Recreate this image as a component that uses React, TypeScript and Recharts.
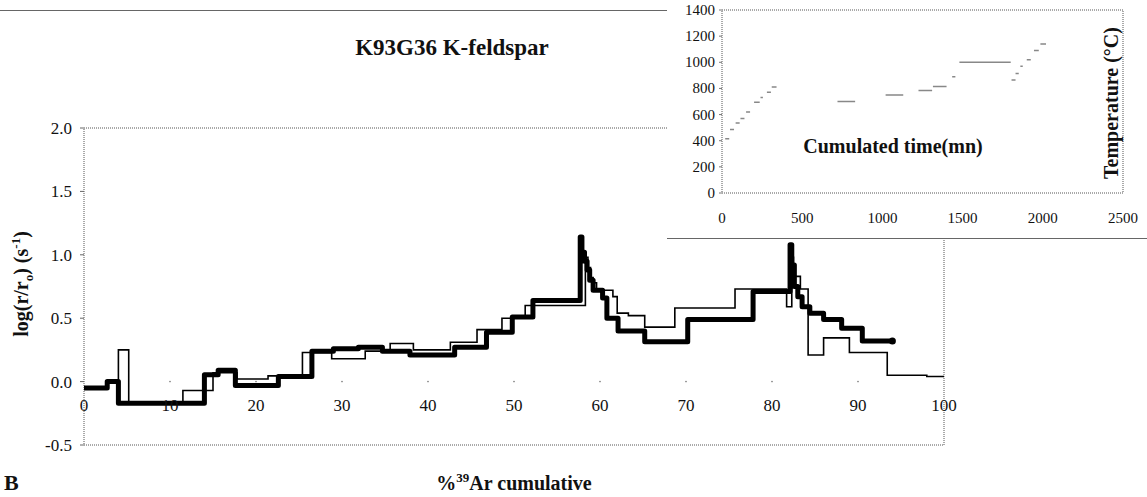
import React from 'react';
import {
    ComposedChart,
    LineChart,
    Line,
    Scatter,
    XAxis,
    YAxis,
    ReferenceArea,
} from 'recharts';

// main plot: log(r/ro) step spectra vs cumulative 39Ar release
const thickX = [0, 2.7, 4.0, 14.0, 15.6, 17.6, 22.6, 26.5, 29.0, 31.9, 34.7, 37.9, 43.1, 46.8, 49.8, 52.2, 57.7, 57.9, 58.2, 58.5, 58.8, 59.2, 60.3, 60.8, 62.1, 65.2, 70.2, 77.8, 82.1, 82.3, 82.6, 83.0, 83.5, 84.4, 86.0, 88.1, 90.5, 94.0];
const thickY = [-0.05, 0.0, -0.17, 0.055, 0.09, -0.03, 0.04, 0.24, 0.26, 0.27, 0.24, 0.21, 0.27, 0.39, 0.51, 0.64, 1.14, 1.02, 0.95, 0.88, 0.8, 0.72, 0.66, 0.5, 0.4, 0.315, 0.49, 0.71, 1.08, 0.92, 0.75, 0.67, 0.59, 0.54, 0.49, 0.42, 0.32, 0.32];

const thinX = [0, 2.7, 4.0, 5.2, 11.5, 15.0, 17.8, 21.4, 25.4, 28.8, 32.7, 35.6, 38.3, 42.6, 45.7, 48.6, 51.3, 58.3, 58.6, 58.9, 59.2, 59.6, 61.5, 62.0, 63.3, 65.2, 68.7, 75.7, 81.7, 82.3, 82.5, 83.3, 84.2, 86.0, 89.0, 93.4, 98.0, 100];
const thinY = [-0.05, 0.0, 0.25, -0.17, -0.07, 0.07, 0.02, 0.045, 0.23, 0.18, 0.24, 0.3, 0.25, 0.31, 0.41, 0.5, 0.6, 0.98, 0.9, 0.82, 0.78, 0.72, 0.67, 0.54, 0.52, 0.43, 0.58, 0.73, 0.59, 0.98, 0.83, 0.73, 0.21, 0.345, 0.23, 0.05, 0.04, 0.04];

const mainXTicks = [0, 10, 20, 30, 40, 50, 60, 70, 80, 90, 100];
const mainYTicks = [-0.5, 0, 0.5, 1, 1.5, 2];

// inset: heating schedule, one dash per step
const segStart = [20, 50, 85, 115, 150, 200, 240, 280, 310, 720, 1020, 1225, 1315, 1435, 1480, 1805, 1830, 1860, 1900, 1945, 1985];
const segEnd = [45, 75, 110, 140, 175, 235, 255, 305, 340, 830, 1130, 1310, 1400, 1455, 1800, 1830, 1850, 1875, 1925, 1975, 2020];
const segTemp = [415, 485, 535, 570, 620, 695, 730, 770, 810, 700, 750, 785, 815, 890, 1000, 865, 915, 970, 1020, 1090, 1140];

const insetXTicks = [0, 500, 1000, 1500, 2000, 2500];
const insetYTicks = [0, 200, 400, 600, 800, 1000, 1200, 1400];

const serif = "'Liberation Serif', 'DejaVu Serif', serif";
const txt = { fontFamily: serif };

const thickData = thickX.map((x, i) => ({ x, y: thickY[i] }));
const thinData = thinX.map((x, i) => ({ x, y: thinY[i] }));
const zeroDots = mainXTicks.slice(1, -1).map((x) => ({ x, y: 0 }));
const tempData = segStart.flatMap((s, i) => [
    { t: s, T: segTemp[i] },
    { t: segEnd[i], T: segTemp[i] },
    { t: segEnd[i], T: null },
]);

const MainXTick = ({ x, y, payload }: any) => (
    <text x={x} y={y - 34} textAnchor="middle" style={txt} fontSize={17} fill="#111">
        {payload.value}
    </text>
);

const MainYTick = ({ x, y, payload }: any) => (
    <text x={x} y={y + 6} textAnchor="end" style={txt} fontSize={17} fill="#111">
        {payload.value.toFixed(1)}
    </text>
);

const InsetXTick = ({ x, y, payload }: any) => (
    <text x={x} y={y + 12} textAnchor="middle" style={txt} fontSize={15} fill="#111">
        {payload.value}
    </text>
);

const InsetYTick = ({ x, y, payload }: any) => (
    <text x={x} y={y + 5} textAnchor="end" style={txt} fontSize={15} fill="#111">
        {payload.value}
    </text>
);

const EndDot = (props: any) => {
    if (props.index !== thickData.length - 1) return <g key={props.index} />;
    return <circle key={props.index} cx={props.cx} cy={props.cy} r={3.5} fill="#000" />;
};

export default function App() {
    return (
        <div style={{ position: 'fixed', left: 0, top: 0, width: 1147, height: 497, overflow: 'hidden', background: '#fff', fontFamily: serif }}>
            <div style={{ position: 'absolute', left: 0, top: 10, width: 667, height: 1, background: '#666' }} />

            <ComposedChart width={1147} height={497} margin={{ top: 128, right: 203, left: 0, bottom: 0 }}>
                <XAxis
                    dataKey="x"
                    type="number"
                    domain={[0, 100]}
                    ticks={mainXTicks}
                    height={52}
                    axisLine={false}
                    tickLine={false}
                    tickSize={0}
                    tickMargin={0}
                    tick={<MainXTick />}
                    allowDuplicatedCategory={false}
                />
                <YAxis
                    type="number"
                    domain={[-0.5, 2]}
                    ticks={mainYTicks}
                    width={84}
                    axisLine={false}
                    tickSize={4}
                    tickMargin={8}
                    tickLine={{ stroke: '#666' }}
                    tick={<MainYTick />}
                />
                <ReferenceArea x1={0} x2={100} y1={-0.5} y2={2} fill="none" stroke="#555" strokeDasharray="1 1" />
                <Scatter data={zeroDots} dataKey="y" fill="#777" shape={(p: any) => <circle cx={p.cx} cy={p.cy} r={0.8} fill="#777" />} isAnimationActive={false} />
                <Line
                    data={thickData}
                    dataKey="y"
                    type="stepAfter"
                    stroke="#000"
                    strokeWidth={5}
                    strokeLinejoin="round"
                    dot={EndDot}
                    activeDot={false}
                    isAnimationActive={false}
                />
                <Line
                    data={thinData}
                    dataKey="y"
                    type="stepAfter"
                    stroke="#000"
                    strokeWidth={1.6}
                    dot={false}
                    activeDot={false}
                    isAnimationActive={false}
                />
            </ComposedChart>

            <div style={{ position: 'absolute', left: 0, top: 0, width: 1147, height: 497, pointerEvents: 'none' }}>
                <svg width={1147} height={497}>
                    <text x={452} y={55} textAnchor="middle" style={txt} fontWeight="bold" fontSize={23} fill="#111">
                        K93G36 K-feldspar
                    </text>
                    <text transform="translate(28,284) rotate(-90)" textAnchor="middle" style={txt} fontWeight="bold" fontSize={20} fill="#111">
                        log(r/r<tspan fontSize={13} dy={5}>o</tspan>
                        <tspan dy={-5}>) (s</tspan>
                        <tspan fontSize={13} dy={-8}>-1</tspan>
                        <tspan dy={8}>)</tspan>
                    </text>
                    <text x={514} y={490} textAnchor="middle" style={txt} fontWeight="bold" fontSize={20} fill="#111">
                        %<tspan fontSize={13} dy={-8}>39</tspan>
                        <tspan dy={8}>Ar cumulative</tspan>
                    </text>
                    <text x={4} y={490} style={txt} fontWeight="bold" fontSize={22} fill="#111">
                        B
                    </text>
                </svg>
            </div>

            <div style={{ position: 'absolute', left: 667, top: 0, width: 480, height: 239, background: '#fff', borderBottom: '1px solid #666', boxSizing: 'border-box' }}>
                <LineChart width={480} height={239} margin={{ top: 10, right: 24, left: 0, bottom: 0 }} data={tempData}>
                    <XAxis
                        dataKey="t"
                        type="number"
                        domain={[0, 2500]}
                        ticks={insetXTicks}
                        height={46}
                        axisLine={false}
                        tickLine={false}
                        tickMargin={12}
                        tick={<InsetXTick />}
                    />
                    <YAxis
                        type="number"
                        domain={[0, 1400]}
                        ticks={insetYTicks}
                        width={55}
                        axisLine={false}
                        tickSize={3}
                        tickMargin={4}
                        tickLine={{ stroke: '#777' }}
                        tick={<InsetYTick />}
                    />
                    <ReferenceArea x1={0} x2={2500} y1={0} y2={1400} fill="none" stroke="#555" strokeDasharray="1 1" />
                    <Line dataKey="T" type="linear" stroke="#888" strokeWidth={1.5} dot={false} activeDot={false} connectNulls={false} isAnimationActive={false} />
                </LineChart>
                <svg style={{ position: 'absolute', left: 0, top: 0 }} width={480} height={239}>
                    <text x={226} y={153} textAnchor="middle" style={txt} fontWeight="bold" fontSize={20} fill="#111">
                        Cumulated time(mn)
                    </text>
                    <text transform="translate(451,103) rotate(-90)" textAnchor="middle" style={txt} fontWeight="bold" fontSize={20} fill="#111">
                        Temperature (°C)
                    </text>
                </svg>
            </div>
        </div>
    );
}
